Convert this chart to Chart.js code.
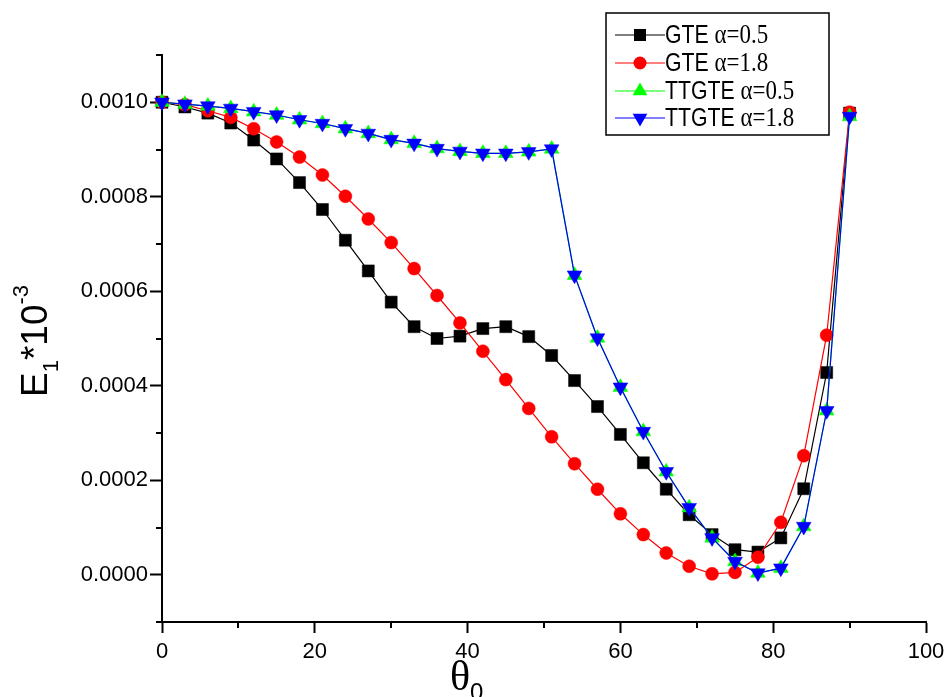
<!DOCTYPE html>
<html>
<head>
<meta charset="utf-8">
<script src="https://cdn.jsdelivr.net/npm/chart.js@4.4.1/dist/chart.umd.min.js"></script>
<style>
html,body{margin:0;padding:0;background:#fff;}
#wrap{width:946px;height:697px;position:relative;}
canvas{display:block;}
</style>
</head>
<body>
<div id="wrap"><canvas id="c" width="946" height="697"></canvas></div>
<script>
// ---- data ----
const theta = [0,3,6,9,12,15,18,21,24,27,30,33,36,39,42,45,48,51,54,57,60,63,66,69,72,75,78,81,84,87,90];
const gte05 = [0.00100,0.000990,0.000977,0.000956,0.000920,0.000880,0.000830,0.000773,0.000708,0.000643,0.000577,0.000525,0.000500,0.000505,0.000521,0.000525,0.000504,0.000464,0.000411,0.000356,0.000297,0.000237,0.000181,0.000127,0.000085,0.000053,0.000048,0.000078,0.000182,0.000428,0.000977];
const gte18 = [0.00100,0.000995,0.000982,0.000968,0.000944,0.000916,0.000884,0.000846,0.000801,0.000753,0.000703,0.000648,0.000591,0.000533,0.000473,0.000413,0.000352,0.000292,0.000235,0.000181,0.000129,0.000085,0.000046,0.000018,0.000002,0.000005,0.000037,0.000111,0.000252,0.000507,0.000979];
const ttgte05 = [0.00100,0.000996,0.000992,0.000987,0.000980,0.000973,0.000963,0.000955,0.000944,0.000934,0.000921,0.000913,0.000902,0.000896,0.000892,0.000892,0.000895,0.000901,0.000634,0.000501,0.000397,0.000303,0.000218,0.000142,0.000078,0.000028,0.0000035,0.000014,0.000102,0.000347,0.000970];
const ttgte18 = [0.00100,0.000996,0.000992,0.000987,0.000980,0.000973,0.000963,0.000955,0.000944,0.000934,0.000921,0.000913,0.000902,0.000896,0.000892,0.000892,0.000895,0.000901,0.000634,0.000501,0.000397,0.000303,0.000218,0.000142,0.000078,0.000028,0.0000035,0.000014,0.000102,0.000347,0.000970];
const seriesNames = [['GTE ','\u03b1=0.5'],['GTE ','\u03b1=1.8'],['TTGTE ','\u03b1=0.5'],['TTGTE ','\u03b1=1.8']];
const xTickValues = [0,20,40,60,80,100];
const xTickLabels = ['0','20','40','60','80','100'];
const xMinorTicks = [10,30,50,70,90];
const yTickValues = [0,0.0002,0.0004,0.0006,0.0008,0.0010];
const yTickLabels = ['0.0000','0.0002','0.0004','0.0006','0.0008','0.0010'];
const yMinorTicks = [-0.0001,0.0001,0.0003,0.0005,0.0007,0.0009,0.0011];

// ---- styles ----
const styles = [
  {color:'#000000', pointStyle:'rect', radius:8.5, rotation:0},
  {color:'#ff0000', pointStyle:'circle', radius:6.5, rotation:0},
  {color:'#00ff00', pointStyle:'triangle', radius:8.5, rotation:0},
  {color:'#0000ff', pointStyle:'triangle', radius:8.5, rotation:180}
];
const seriesData = [gte05, gte18, ttgte05, ttgte18];

function toXY(arr){ return theta.map((t,i)=>({x:t, y:arr[i]})); }

const datasets = seriesData.map((arr,i)=>({
  label: seriesNames[i].join(''),
  data: toXY(arr),
  borderColor: styles[i].color,
  backgroundColor: styles[i].color,
  borderWidth: 1.2,
  pointStyle: styles[i].pointStyle,
  pointRadius: styles[i].radius,
  pointRotation: styles[i].rotation,
  pointBorderWidth: 0.5,
  pointBorderColor: styles[i].color,
  pointBackgroundColor: styles[i].color,
  tension: 0,
  clip: false,
  order: 4 - i
}));

function drawMarker(ctx, st, x, y){
  ctx.save();
  ctx.fillStyle = st.color;
  ctx.beginPath();
  const r = st.radius;
  if (st.pointStyle === 'rect'){
    const s = Math.SQRT1_2 * r;
    ctx.rect(x - s, y - s, 2*s, 2*s);
  } else if (st.pointStyle === 'circle'){
    ctx.arc(x, y, r, 0, Math.PI*2);
  } else {
    const rot = st.rotation * Math.PI/180;
    for (let k=0;k<3;k++){
      const a = rot + k*2*Math.PI/3;
      const px = x + Math.sin(a)*r, py = y - Math.cos(a)*r;
      if (k===0) ctx.moveTo(px,py); else ctx.lineTo(px,py);
    }
    ctx.closePath();
  }
  ctx.fill();
  ctx.restore();
}

// draw text with horizontal compression, returns advance width
function narrowText(ctx, txt, x, y, font, sx){
  ctx.save();
  ctx.font = font;
  ctx.translate(x, y);
  ctx.scale(sx, 1);
  ctx.fillText(txt, 0, 0);
  const w = ctx.measureText(txt).width * sx;
  ctx.restore();
  return w;
}

const decorPlugin = {
  id: 'decor',
  afterDraw(chart){
    const ctx = chart.ctx;
    const xs = chart.scales.x, ys = chart.scales.y;
    const ca = chart.chartArea;
    ctx.save();
    // minor ticks
    ctx.strokeStyle = '#000';
    ctx.lineWidth = 2;
    ctx.beginPath();
    yMinorTicks.forEach(v=>{
      const py = Math.round(ys.getPixelForValue(v));
      ctx.moveTo(ca.left - 6, py); ctx.lineTo(ca.left, py);
    });
    xMinorTicks.forEach(v=>{
      const px = Math.round(xs.getPixelForValue(v));
      ctx.moveTo(px, ca.bottom); ctx.lineTo(px, ca.bottom + 6);
    });
    ctx.stroke();

    // y axis title: E_1 *10^-3 (rotated)
    ctx.save();
    ctx.translate(47, 397);
    ctx.rotate(-Math.PI/2);
    ctx.fillStyle = '#000';
    ctx.textBaseline = 'alphabetic';
    ctx.textAlign = 'left';
    const big = '37px "Liberation Sans", Arial, sans-serif';
    const small = '22px "Liberation Sans", Arial, sans-serif';
    let cx = 0;
    ctx.font = big; ctx.fillText('E', cx, 0); cx += ctx.measureText('E').width;
    ctx.font = small; ctx.fillText('1', cx, 11); cx += ctx.measureText('1').width;
    ctx.font = big; ctx.fillText('*10', cx, 0); cx += ctx.measureText('*10').width;
    ctx.font = small; ctx.fillText('-3', cx, -19);
    ctx.restore();

    // x axis title: theta_0
    ctx.fillStyle = '#000';
    ctx.textAlign = 'left';
    ctx.textBaseline = 'alphabetic';
    ctx.font = '42px "Liberation Serif", "Times New Roman", serif';
    ctx.fillText('\u03b8', 450, 690);
    const tw = ctx.measureText('\u03b8').width;
    ctx.font = '24px "Liberation Sans", Arial, sans-serif';
    ctx.fillText('0', 450 + tw, 700);

    // legend
    const bx = 606, by = 13, bw = 223, bh = 122;
    ctx.fillStyle = '#fff';
    ctx.fillRect(bx, by, bw, bh);
    ctx.strokeStyle = '#000';
    ctx.lineWidth = 1.5;
    ctx.strokeRect(bx, by, bw, bh);
    const rows = [35, 63, 91, 118];
    rows.forEach((ry, i)=>{
      const st = styles[i];
      ctx.strokeStyle = st.color;
      ctx.lineWidth = 1.2;
      ctx.beginPath();
      ctx.moveTo(615, ry); ctx.lineTo(665, ry);
      ctx.stroke();
      drawMarker(ctx, st, 640, ry);
      ctx.fillStyle = '#000';
      ctx.textBaseline = 'middle';
      const w1 = narrowText(ctx, seriesNames[i][0], 665, ry + 1, '25px "Liberation Sans", Arial, sans-serif', 0.85);
      narrowText(ctx, seriesNames[i][1], 665 + w1, ry + 1, '27px "Liberation Serif", "Times New Roman", serif', 0.85);
    });
    ctx.restore();
  }
};

new Chart(document.getElementById('c'), {
  type: 'line',
  data: { datasets },
  options: {
    responsive: false,
    animation: false,
    devicePixelRatio: 1,
    layout: { padding: { top: 55, right: 20, left: 0, bottom: 0 } },
    plugins: { legend: { display: false }, tooltip: { enabled: false }, title: { display: false } },
    scales: {
      x: {
        type: 'linear',
        min: 0, max: 100,
        afterBuildTicks: s => { s.ticks = xTickValues.map(v => ({ value: v })); },
        afterFit: s => { s.height = 75; s.paddingLeft = 0; s.paddingRight = 0; },
        grid: { drawOnChartArea: false, drawTicks: true, tickLength: 11, tickColor: '#000', tickWidth: 2 },
        border: { display: true, color: '#000', width: 2 },
        ticks: {
          color: '#000', padding: 6, autoSkip: false, maxRotation: 0,
          font: { family: '"Liberation Sans", Arial, sans-serif', size: 22 },
          callback: (v, i) => xTickLabels[i]
        }
      },
      y: {
        type: 'linear',
        min: -0.0001, max: 0.0011,
        afterBuildTicks: s => { s.ticks = yTickValues.map(v => ({ value: v })); },
        afterFit: s => { s.width = 162; s.paddingTop = 0; s.paddingBottom = 0; },
        grid: { drawOnChartArea: false, drawTicks: true, tickLength: 12, tickColor: '#000', tickWidth: 2 },
        border: { display: true, color: '#000', width: 2 },
        ticks: {
          color: '#000', padding: 2, autoSkip: false,
          font: { family: '"Liberation Sans", Arial, sans-serif', size: 22 },
          callback: (v, i) => yTickLabels[i]
        }
      }
    }
  },
  plugins: [decorPlugin]
});
</script>
</body>
</html>
